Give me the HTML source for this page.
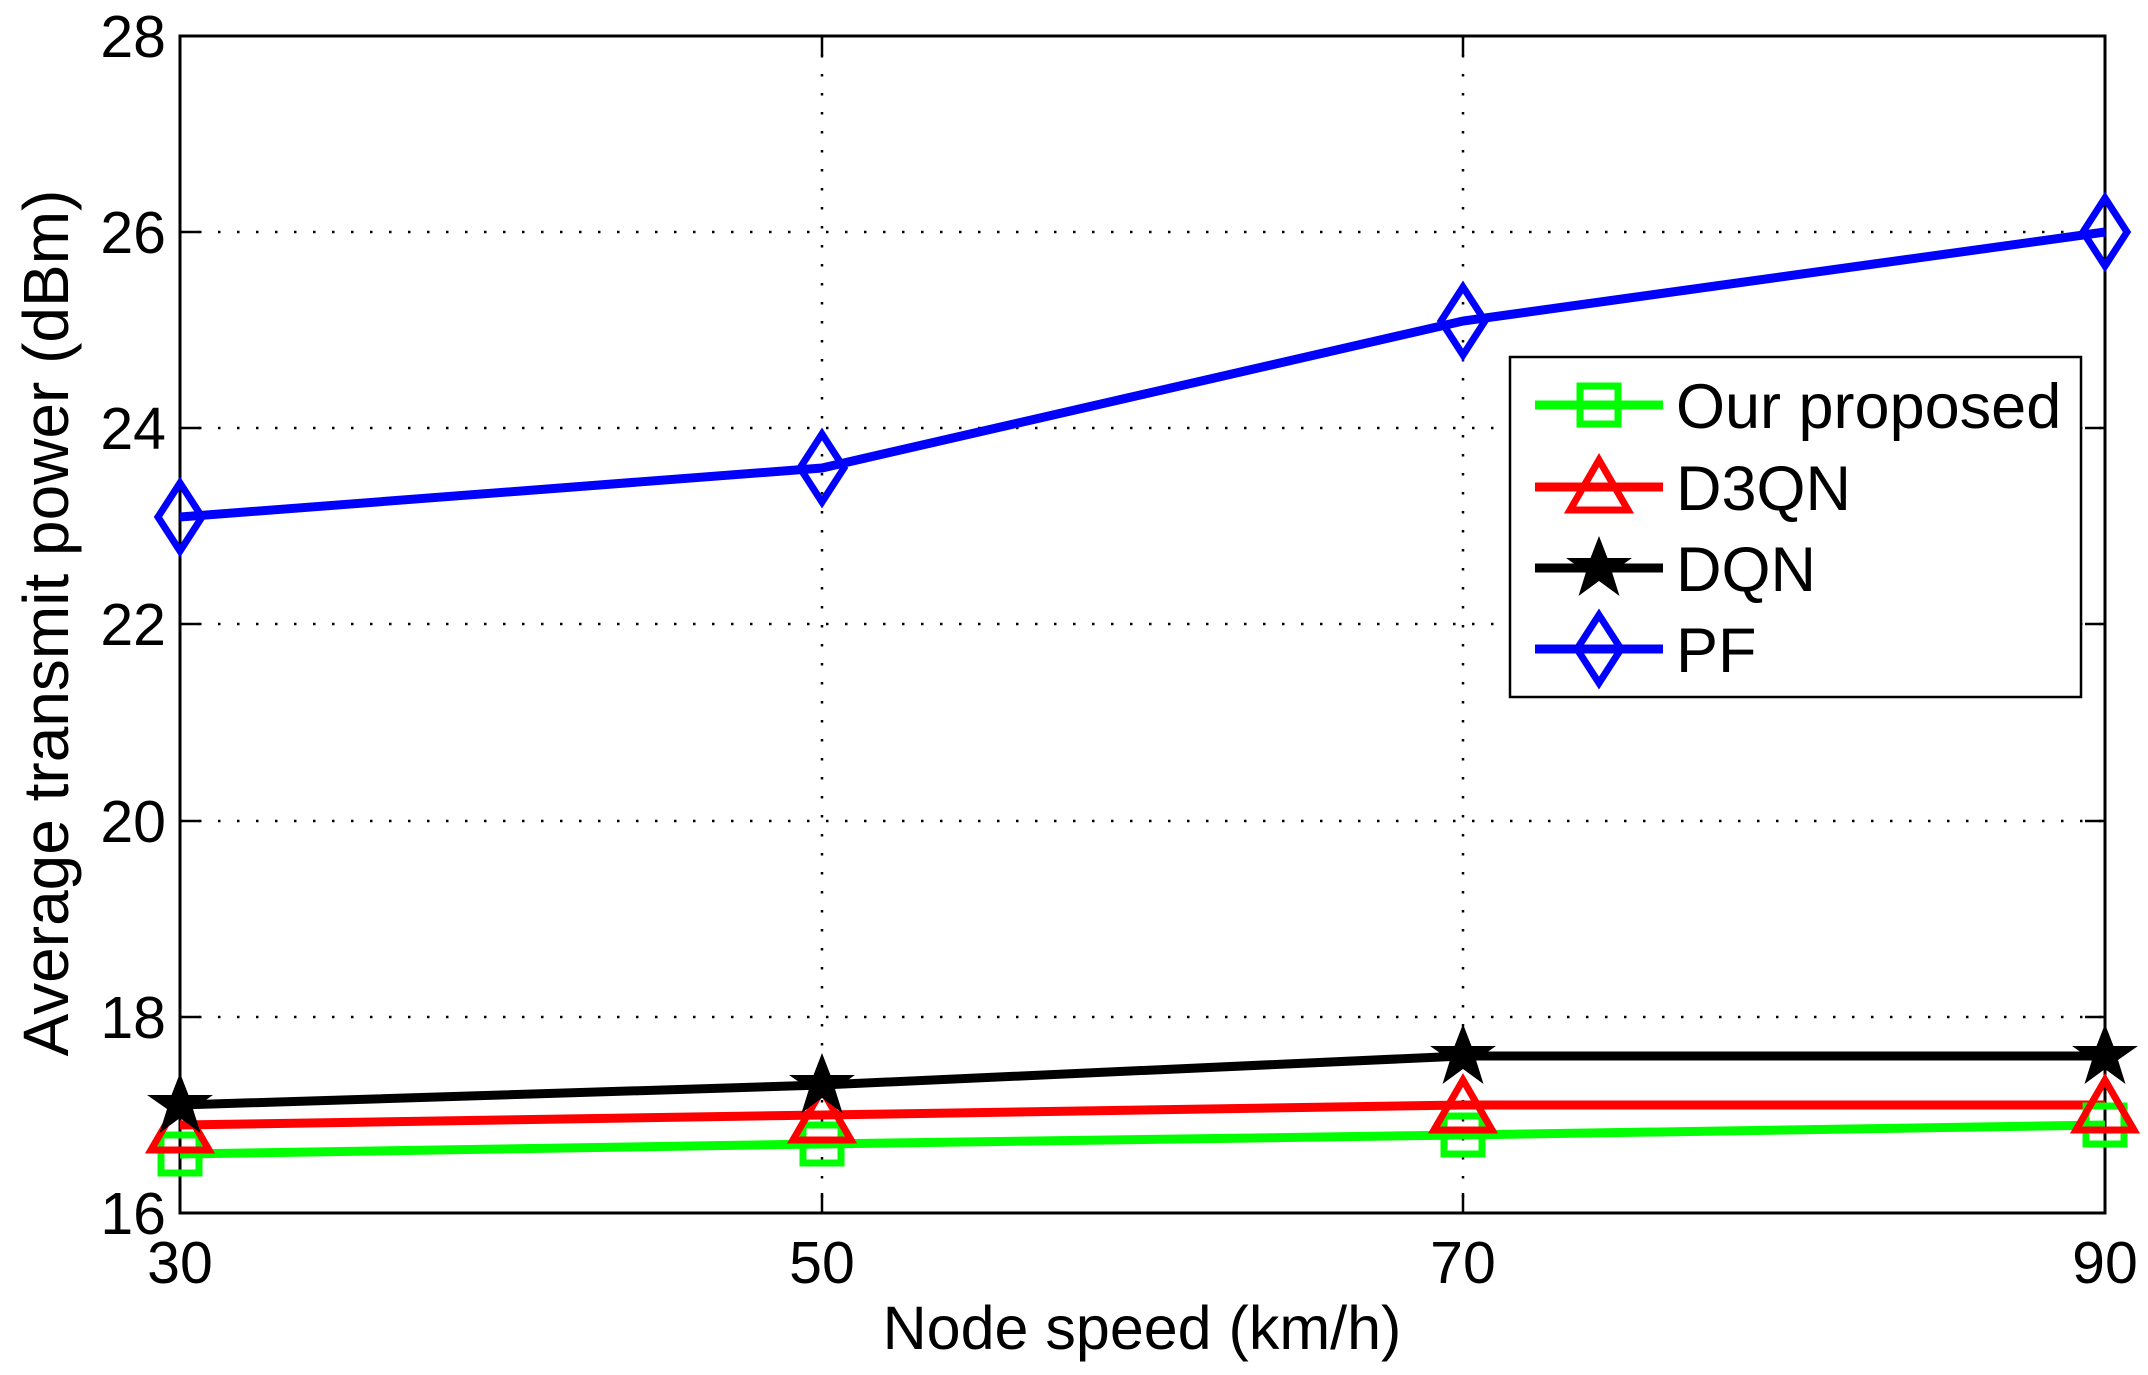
<!DOCTYPE html>
<html><head><meta charset="utf-8"><style>
html,body{margin:0;padding:0;background:#fff;}
svg{display:block;}
text{font-family:"Liberation Sans",Arial,sans-serif;fill:#000;}
</style></head><body>
<svg width="2148" height="1375" viewBox="0 0 2148 1375" xmlns="http://www.w3.org/2000/svg">
<rect width="2148" height="1375" fill="#fff"/>
<g stroke="#000" stroke-width="2.5" stroke-dasharray="2.5 16.5" fill="none">
<line x1="180" y1="232" x2="2105" y2="232"/>
<line x1="180" y1="428" x2="2105" y2="428"/>
<line x1="180" y1="624" x2="2105" y2="624"/>
<line x1="180" y1="821" x2="2105" y2="821"/>
<line x1="180" y1="1017" x2="2105" y2="1017"/>
<line x1="822" y1="36" x2="822" y2="1213"/>
<line x1="1463" y1="36" x2="1463" y2="1213"/>
</g>
<g stroke="#000" stroke-width="2.5">
<line x1="180" y1="232" x2="200" y2="232"/><line x1="2105" y1="232" x2="2085" y2="232"/>
<line x1="180" y1="428" x2="200" y2="428"/><line x1="2105" y1="428" x2="2085" y2="428"/>
<line x1="180" y1="624" x2="200" y2="624"/><line x1="2105" y1="624" x2="2085" y2="624"/>
<line x1="180" y1="821" x2="200" y2="821"/><line x1="2105" y1="821" x2="2085" y2="821"/>
<line x1="180" y1="1017" x2="200" y2="1017"/><line x1="2105" y1="1017" x2="2085" y2="1017"/>
<line x1="822" y1="1213" x2="822" y2="1193"/><line x1="822" y1="36" x2="822" y2="56"/>
<line x1="1463" y1="1213" x2="1463" y2="1193"/><line x1="1463" y1="36" x2="1463" y2="56"/>
</g>
<rect x="180" y="36" width="1925" height="1177" fill="none" stroke="#000" stroke-width="3"/>
<g font-size="59" text-anchor="end">
<text x="166" y="57">28</text>
<text x="166" y="253">26</text>
<text x="166" y="449">24</text>
<text x="166" y="645">22</text>
<text x="166" y="842">20</text>
<text x="166" y="1038">18</text>
<text x="166" y="1234">16</text>
</g>
<g font-size="59" text-anchor="middle">
<text x="180" y="1283">30</text>
<text x="822" y="1283">50</text>
<text x="1463" y="1283">70</text>
<text x="2105" y="1283">90</text>
</g>
<text x="1142" y="1349" font-size="61" text-anchor="middle">Node speed (km/h)</text>
<text transform="translate(68,623) rotate(-90)" font-size="64" text-anchor="middle">Average transmit power (dBm)</text>
<g fill="none" stroke-width="9" stroke-linejoin="miter">
<polyline stroke="#00ff00" points="180,1154 822,1144 1463,1135 2105,1125"/>
<polyline stroke="#ff0000" points="180,1125 822,1115 1463,1105 2105,1105"/>
<polyline stroke="#000" points="180,1105 822,1085 1463,1056 2105,1056"/>
<polyline stroke="#0000ff" points="180,517 822,468 1463,321 2105,232"/>
</g>
<defs>
<rect id="sq" x="-19" y="-19" width="38" height="38" fill="none" stroke="#00ff00" stroke-width="7"/>
<polygon id="tr" points="0,-25 29,25 -29,25" fill="none" stroke="#ff0000" stroke-width="7"/>
<polygon id="st" points="0,-32 8.5,-10 33,-10 13,4 20.5,28 0,13 -20.5,28 -13,4 -33,-10 -8.5,-10" fill="#000"/>
<polygon id="di" points="0,-34 22,0 0,34 -22,0" fill="none" stroke="#0000ff" stroke-width="7"/>
</defs>
<use href="#sq" x="180" y="1154"/><use href="#sq" x="822" y="1144"/><use href="#sq" x="1463" y="1135"/><use href="#sq" x="2105" y="1125"/>
<use href="#tr" x="180" y="1125"/><use href="#tr" x="822" y="1115"/><use href="#tr" x="1463" y="1105"/><use href="#tr" x="2105" y="1105"/>
<use href="#st" x="180" y="1105"/><use href="#st" x="822" y="1085"/><use href="#st" x="1463" y="1056"/><use href="#st" x="2105" y="1056"/>
<use href="#di" x="180" y="517"/><use href="#di" x="822" y="468"/><use href="#di" x="1463" y="321"/><use href="#di" x="2105" y="232"/>
<rect x="1510" y="357" width="571" height="340" fill="#fff" stroke="#000" stroke-width="2.5"/>
<g stroke-width="9">
<line x1="1535" y1="405" x2="1663" y2="405" stroke="#00ff00"/>
<line x1="1535" y1="487" x2="1663" y2="487" stroke="#ff0000"/>
<line x1="1535" y1="568" x2="1663" y2="568" stroke="#000"/>
<line x1="1535" y1="649" x2="1663" y2="649" stroke="#0000ff"/>
</g>
<use href="#sq" x="1599" y="405"/>
<use href="#tr" x="1599" y="485"/>
<use href="#st" x="1599" y="568"/>
<use href="#di" x="1599" y="649"/>
<g font-size="63">
<text x="1676" y="428">Our proposed</text>
<text x="1676" y="510">D3QN</text>
<text x="1676" y="591">DQN</text>
<text x="1676" y="672">PF</text>
</g>
</svg>
</body></html>
